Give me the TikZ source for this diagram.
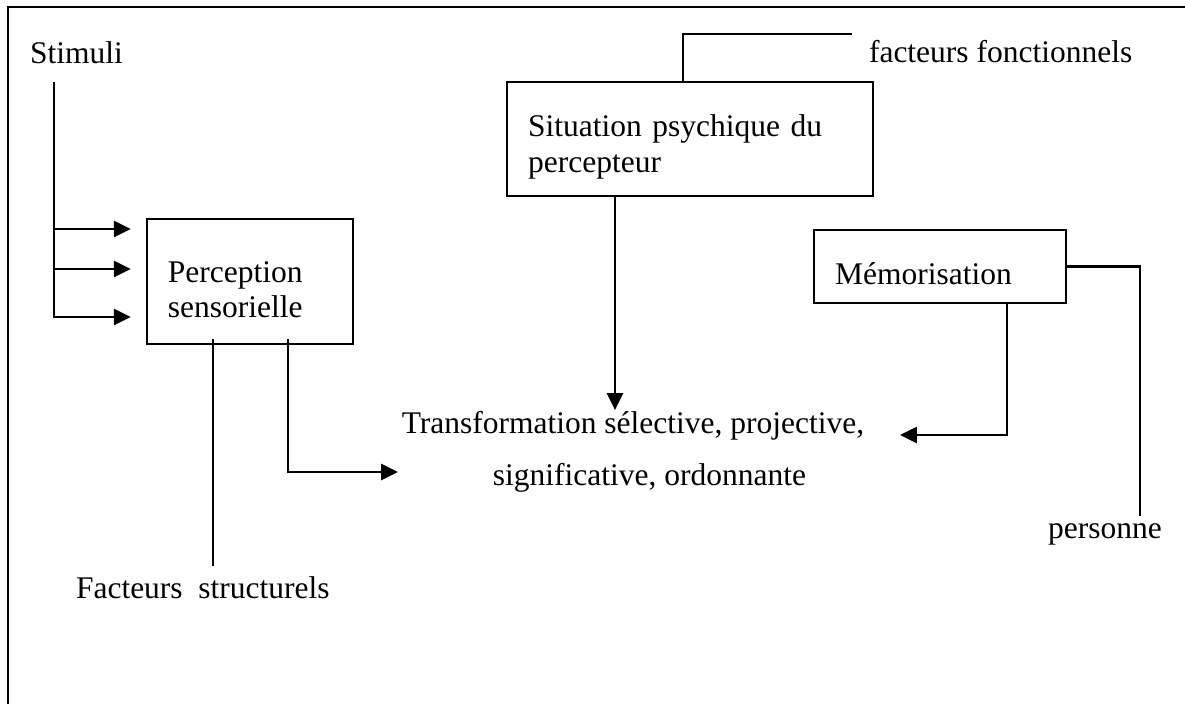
\documentclass[tikz,border=0pt]{standalone}
\usepackage{fontspec}
\setmainfont{Liberation Serif}
\usetikzlibrary{arrows.meta}
\usetikzlibrary{calc}

\begin{document}
\begin{tikzpicture}[x=0.025cm, y=-0.025cm, line width=1.45pt, font=\fontsize{22.4}{25.5}\selectfont]
    \tikzstyle{bloc}=[draw, rectangle, inner xsep=0.53cm, inner ysep=0pt, align=left, execute at begin node={\rule{0pt}{0.93cm}}]
    \tikzstyle{etiq}=[inner sep=0pt, anchor=base west]
    \tikzstyle{fleche}=[-{Triangle[length=0.42cm, width=0.4cm]}]
\useasboundingbox (0,0) rectangle (1185,704);
\draw (8,704) -- (8,7) -- (1185,7);
    % textes et boites
    \node[etiq] (stimuli) at (29,63) {Stimuli};
    \node[bloc, text width=4.1cm, minimum height=3.125cm] (perception) at (250,281.5) {Perception\\sensorielle};
    \node[bloc, text width=8.09cm, minimum height=2.85cm] (situation) at (690,139) {Situation psychique du\\percepteur};
    \node[bloc, text width=5.24cm, minimum height=1.825cm] (memo) at (940,266.5) {Mémorisation};
    \node[align=center, inner sep=0pt, font=\fontsize{22.4}{36.9}\selectfont] (transfo) at (633,451.5) {Transformation sélective, projective,\\\hspace*{0.825cm}significative, ordonnante};
    \node[etiq] (ffonct) at (868,62) {facteurs fonctionnels};
    \node[etiq] (fstruct) at (75,598) {Facteurs\ \ structurels};
    \node[etiq] (personne) at (1047,538) {personne};
    \coordinate (tronc) at (54,82);
    \coordinate (ffin) at (852,34);
    \coordinate (versT) at (398,472);
    \coordinate (versM) at (900,435);
    % liaisons
\foreach \y in {229,269,317}{
    \draw[fleche, shorten >=0.375cm] (tronc) |- (perception.west |- 0,\y);
      }
    \draw[shorten <=-0.15cm, shorten >=0.24cm] (perception.south -| 213,0) -- (fstruct.north -| 213,0);
    \draw[fleche, shorten <=-0.15cm] (perception.south -| 288,0) |- (versT);
    \draw[fleche] (situation.south -| 615,0) -- (transfo.north -| 615,0);
    \draw (situation.north -| 683,0) |- (ffin);
    \draw[shorten >=0.16cm] (memo.east) -| (personne.north -| 1140,0);
    \draw[fleche] (memo.south -| 1007,0) |- (versM);
\end{tikzpicture}
\end{document}
